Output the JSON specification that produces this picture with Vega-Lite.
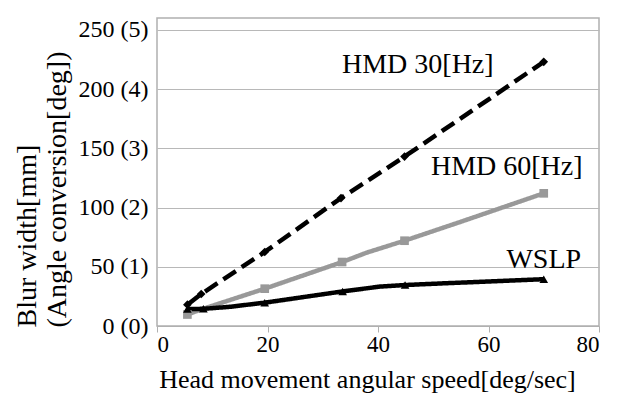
{
  "$schema": "https://vega.github.io/schema/vega-lite/v6.json",
  "width": 442,
  "height": 308,
  "autosize": {"type": "none"},
  "padding": {"left": 157, "top": 18, "right": 20, "bottom": 75},
  "background": "white",
  "config": {
    "font": "Liberation Serif",
    "view": {"stroke": "#b0b0b0", "strokeWidth": 1.5}
  },
  "datasets": {
    "series": [
      {"series": "HMD 30[Hz]", "speed": 5.5, "blur": 18, "m": 1},
      {"series": "HMD 30[Hz]", "speed": 8, "blur": 27, "m": 1},
      {"series": "HMD 30[Hz]", "speed": 19.5, "blur": 62.5, "m": 1},
      {"series": "HMD 30[Hz]", "speed": 33.3, "blur": 108, "m": 1},
      {"series": "HMD 30[Hz]", "speed": 44.8, "blur": 143, "m": 1},
      {"series": "HMD 30[Hz]", "speed": 70, "blur": 223, "m": 1},
      {"series": "HMD 60[Hz]", "speed": 5.5, "blur": 9.7, "m": 1},
      {"series": "HMD 60[Hz]", "speed": 8, "blur": 14, "m": 0},
      {"series": "HMD 60[Hz]", "speed": 19.5, "blur": 31.5, "m": 1},
      {"series": "HMD 60[Hz]", "speed": 33.5, "blur": 54, "m": 1},
      {"series": "HMD 60[Hz]", "speed": 38, "blur": 62, "m": 0},
      {"series": "HMD 60[Hz]", "speed": 44.8, "blur": 72, "m": 1},
      {"series": "HMD 60[Hz]", "speed": 55, "blur": 88, "m": 0},
      {"series": "HMD 60[Hz]", "speed": 70, "blur": 112, "m": 1},
      {"series": "WSLP", "speed": 5.5, "blur": 14.3, "m": 1},
      {"series": "WSLP", "speed": 8.4, "blur": 14.5, "m": 1},
      {"series": "WSLP", "speed": 13.2, "blur": 16.2, "m": 0},
      {"series": "WSLP", "speed": 19.5, "blur": 19.7, "m": 1},
      {"series": "WSLP", "speed": 33.6, "blur": 29.2, "m": 1},
      {"series": "WSLP", "speed": 40.4, "blur": 33.3, "m": 0},
      {"series": "WSLP", "speed": 44.9, "blur": 34.6, "m": 1},
      {"series": "WSLP", "speed": 51.8, "blur": 36, "m": 0},
      {"series": "WSLP", "speed": 70, "blur": 39.5, "m": 1}
    ],
    "labels": [
      {"text": "HMD 30[Hz]", "speed": 47.2, "blur": 220},
      {"text": "HMD 60[Hz]", "speed": 63.3, "blur": 134.5},
      {"text": "WSLP", "speed": 70, "blur": 56}
    ]
  },
  "layer": [
    {
      "data": {"name": "series"},
      "mark": {"type": "line", "strokeWidth": 4.5},
      "encoding": {
        "x": {"field": "speed", "type": "quantitative", "scale": {"domain": [0, 80]},
          "axis": {"values": [0, 20, 40, 60, 80], "grid": false, "domain": true, "domainColor": "#b0b0b0", "tickColor": "#b0b0b0", "tickSize": 6, "labelFont": "Liberation Serif", "labelColor": "#000", "labelFontSize": 23, "labelPadding": 1, "title": "Head movement angular speed[deg/sec]", "titleFont": "Liberation Serif", "titleColor": "#000", "titleFontWeight": "normal", "titleFontSize": 26, "titlePadding": 10, "titleX": 210, "titleLimit": 1000}},
        "y": {"field": "blur", "type": "quantitative", "scale": {"domain": [0, 250]},
          "axis": {"values": [0, 50, 100, 150, 200, 250], "labelExpr": "datum.value + ' (' + (datum.value/50) + ')'", "grid": true, "gridColor": "#b8b8b8", "gridWidth": 1.2, "domain": false, "ticks": false, "labelFont": "Liberation Serif", "labelColor": "#000", "labelFontSize": 24, "labelPadding": 9,
            "title": ["Blur width[mm]", "(Angle conversion[deg])"], "titleFont": "Liberation Serif", "titleColor": "#000", "titleFontWeight": "normal", "titleFontSize": 28, "titleLineHeight": 30, "titleAngle": -90, "titleAlign": "left", "titleBaseline": "top", "titleX": -144, "titleY": 309, "titleLimit": 1000}},
        "color": {"field": "series", "type": "nominal", "scale": {"domain": ["HMD 30[Hz]", "HMD 60[Hz]", "WSLP"], "range": ["#000000", "#999999", "#000000"]}, "legend": null},
        "strokeDash": {"field": "series", "type": "nominal", "scale": {"domain": ["HMD 30[Hz]", "HMD 60[Hz]", "WSLP"], "range": [[15, 7], [1, 0], [1, 0]]}, "legend": null}
      }
    },
    {
      "data": {"name": "series"},
      "transform": [{"filter": "datum.m == 1"}],
      "mark": {"type": "point", "filled": true, "opacity": 1},
      "encoding": {
        "x": {"field": "speed", "type": "quantitative"},
        "y": {"field": "blur", "type": "quantitative"},
        "shape": {"field": "series", "type": "nominal", "scale": {"domain": ["HMD 30[Hz]", "HMD 60[Hz]", "WSLP"], "range": ["diamond", "square", "triangle-up"]}, "legend": null},
        "color": {"field": "series", "type": "nominal", "scale": {"domain": ["HMD 30[Hz]", "HMD 60[Hz]", "WSLP"], "range": ["#000000", "#808080", "#000000"]}, "legend": null},
        "size": {"value": 75}
      }
    },
    {
      "data": {"name": "labels"},
      "mark": {"type": "text", "font": "Liberation Serif", "fontSize": 28, "color": "#000"},
      "encoding": {
        "x": {"field": "speed", "type": "quantitative"},
        "y": {"field": "blur", "type": "quantitative"},
        "text": {"field": "text"}
      }
    }
  ]
}
